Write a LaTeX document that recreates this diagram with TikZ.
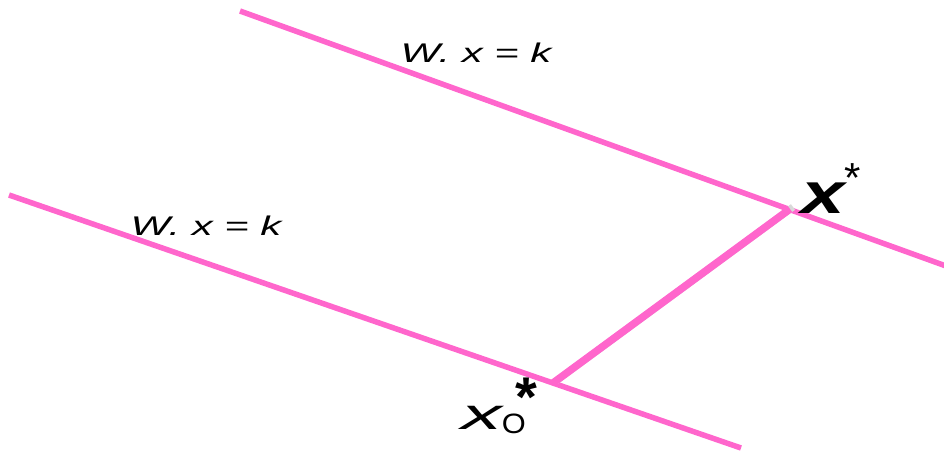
\documentclass[tikz,border=0pt]{standalone}
\usepackage{fontspec}
\setmainfont{Liberation Sans}
\definecolor{linepink}{HTML}{FF66CC}
\begin{document}
\begin{tikzpicture}[x=1pt,y=-1pt,
  plane/.style={draw=linepink,line width=5.5pt},
  link/.style={draw=linepink,line width=7.5pt},
  lbl/.style={font=\fontsize{27}{30}\selectfont\itshape,inner sep=0pt,xscale=1.55},
  pt/.style={inner sep=0pt}]
\useasboundingbox (0,0) rectangle (944,453);
\coordinate (a1) at (240,11);
\coordinate (a2) at (946,266);
\coordinate (b1) at (9,195);
\coordinate (b2) at (741,448);
\coordinate (p) at (790,209);
\coordinate (q) at (553,383);
\draw[plane] (a1) -- (a2);
\draw[plane] (b1) -- (b2);
\draw[draw=black!15,line width=7pt] ([xshift=3pt,yshift=2pt]q) -- ([xshift=3pt,yshift=2pt]p);
\draw[link] (q) -- (p);
\node[lbl] (l1) at (476,53) {W. x = k};
\node[lbl] (l2) at (206,226) {W. x = k};
\node[pt,anchor=base west] (xs) at (801,213) {\fontsize{58}{60}\selectfont\bfseries\itshape\scalebox{1.35}[1]{x}\raisebox{0.36em}{\fontsize{42}{44}\selectfont\mdseries\upshape *}};
\node[pt,anchor=base west] (x0) at (461,429) {\fontsize{44}{46}\selectfont\itshape\scalebox{1.85}[1]{x}\raisebox{-4pt}{\fontsize{28}{32}\selectfont\upshape\scalebox{1.1}[1]{O}}\hspace{-10pt}\raisebox{13pt}{\fontsize{56}{58}\selectfont\bfseries\upshape *}};
\end{tikzpicture}
\end{document}
